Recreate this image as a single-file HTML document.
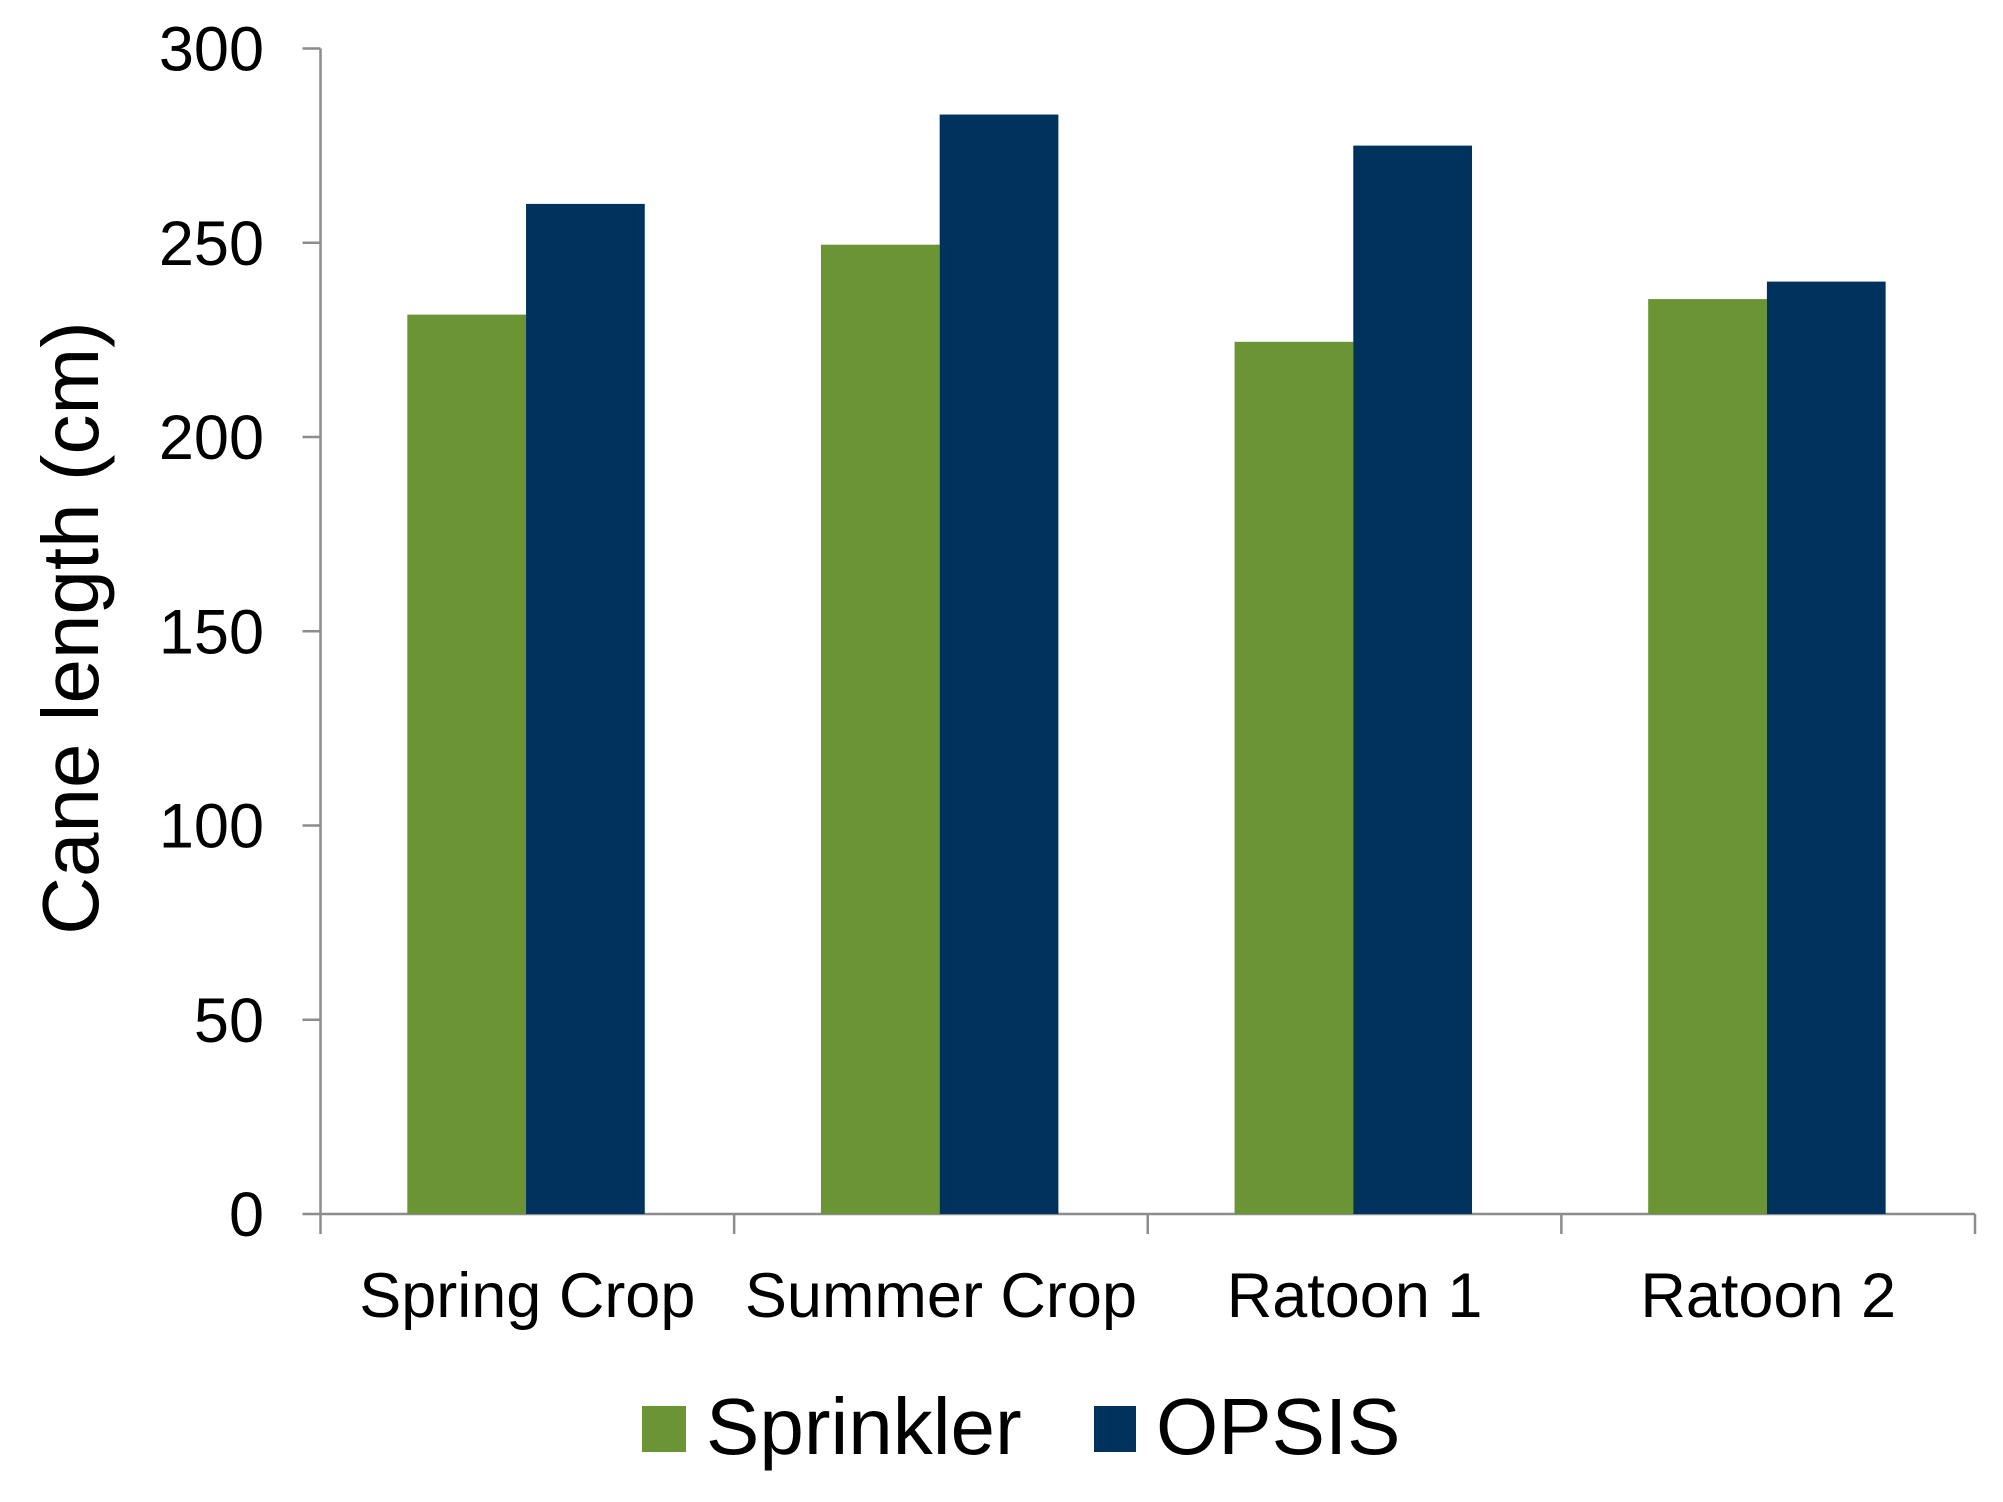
<!DOCTYPE html>
<html><head><meta charset="utf-8"><style>
html,body{margin:0;padding:0;background:#fff;}
svg{display:block;font-family:"Liberation Sans",Arial,sans-serif;}
</style></head><body>
<svg id="chart" width="2003" height="1502" viewBox="0 0 2003 1502" xmlns="http://www.w3.org/2000/svg">
<g id="axes"></g>
<g id="bars"></g>
<text transform="translate(98,628) rotate(-90)" text-anchor="middle" font-size="80" fill="#000">Cane length (cm)</text>
<g>
<rect x="642" y="1406" width="44" height="46" fill="#6b9535"/>
<text x="706" y="1454" font-size="80" fill="#000">Sprinkler</text>
<rect x="1094" y="1406" width="42" height="46" fill="#00325e"/>
<text x="1156" y="1454" font-size="80" fill="#000">OPSIS</text>
</g>
</svg>
<script>
const categories = ["Spring Crop","Summer Crop","Ratoon 1","Ratoon 2"];
const sprinkler = [231.5, 249.5, 224.5, 235.5];
const opsis = [260, 283, 275, 240];
const yTicks = [0,50,100,150,200,250,300];

const NS="http://www.w3.org/2000/svg";
const x0=320.5, x1=1975, y0=1214, yTop=48.5, yMax=300;
const catW=(x1-x0)/categories.length;
const barW=catW*93/324, barOff=catW*68/324;
function yScale(v){return y0-(v/yMax)*(y0-yTop);}
function xCat(i){return x0+i*catW;}
function mk(tag,attrs,parent){const e=document.createElementNS(NS,tag);for(const k in attrs)e.setAttribute(k,attrs[k]);parent.appendChild(e);return e;}
const axes=document.getElementById('axes'), bars=document.getElementById('bars');
const col="#8c8c8c";
let a=mk('line',{x1:x0,y1:yTop,x2:x0,y2:y0,stroke:col,'stroke-width':2.5},axes);


a=mk('line',{x1:x0,y1:y0,x2:x1,y2:y0,stroke:col,'stroke-width':2.5},axes);


yTicks.forEach(t=>{
  const y=yScale(t);
  const l=mk('line',{x1:x0-18,y1:y,x2:x0,y2:y,stroke:col,'stroke-width':2.5},axes);
  
  
  const tx=mk('text',{x:264,y:y+22,'text-anchor':'end','font-size':63,fill:'#000'},axes);
  tx.textContent=t;
  
  
});
for(let i=0;i<=categories.length;i++){
  const l=mk('line',{x1:xCat(i),y1:y0,x2:xCat(i),y2:y0+20,stroke:col,'stroke-width':2.5},axes);
  
  
}
categories.forEach((c,i)=>{
  const tx=mk('text',{x:xCat(i)+catW/2,y:1317,'text-anchor':'middle','font-size':63,fill:'#000'},axes);
  tx.textContent=c;
  
  
  const b1=mk('rect',{x:xCat(i)+barOff,y:yScale(sprinkler[i]),width:barW,height:y0-yScale(sprinkler[i]),fill:'#6b9535'},bars);
  
  
  const b2=mk('rect',{x:xCat(i)+barOff+barW,y:yScale(opsis[i]),width:barW,height:y0-yScale(opsis[i]),fill:'#00325e'},bars);
  
  
});
</script>
</body></html>
